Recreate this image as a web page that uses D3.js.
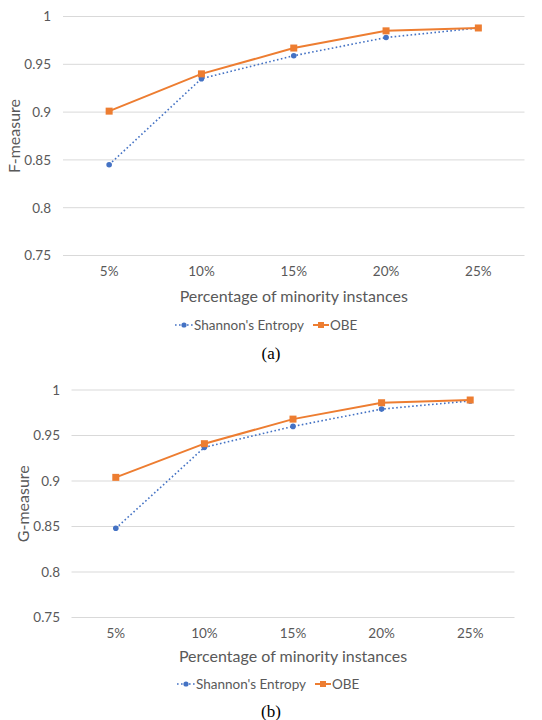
<!DOCTYPE html>
<html><head><meta charset="utf-8">
<script src="https://cdn.jsdelivr.net/npm/d3@7"></script>
<style>body{margin:0;background:#fff;} svg{display:block;}</style>
</head><body>
<svg id="c" width="542" height="720"></svg>
<script>
const categories = ["5%", "10%", "15%", "20%", "25%"];
const yTicks = [0.75, 0.8, 0.85, 0.9, 0.95, 1];
const seriesNames = ["Shannon's Entropy", "OBE"];
const fShannon = [0.845, 0.935, 0.959, 0.978, 0.988];
const fOBE = [0.901, 0.940, 0.967, 0.985, 0.988];
const gShannon = [0.848, 0.937, 0.960, 0.979, 0.988];
const gOBE = [0.904, 0.941, 0.968, 0.986, 0.989];

const svg = d3.select("#c");
const blue = "#4472C4", orange = "#ED7D31", txt = "#595959";
const font = "Lato, 'Open Sans', sans-serif";

function panel(o) {
  const g = svg.append("g");
  const x = d3.scaleBand().domain(categories).range([o.x0, o.x1]);
  const y = d3.scaleLinear().domain([0.75, 1]).range([o.y0, o.y1]);
  g.selectAll("line.grid").data(yTicks).enter().append("line")
    .attr("x1", o.x0).attr("x2", o.x1)
    .attr("y1", d => y(d)).attr("y2", d => y(d))
    .attr("stroke", "#D9D9D9").attr("stroke-width", 1);
  const ya = g.append("g").attr("transform", `translate(${o.x0},0)`)
    .call(d3.axisLeft(y).tickValues(yTicks).tickSize(0).tickPadding(o.x0 - o.labR).tickFormat(d => d3.format("")(d)));
  ya.select(".domain").remove();
  ya.selectAll("text").attr("fill", txt).style("font-family", font).style("font-size", "13.5px");
  const xa = g.append("g").attr("transform", `translate(0,${o.y0})`)
    .call(d3.axisBottom(x).tickSize(0).tickPadding(o.xTickY - o.y0 - 9));
  xa.select(".domain").remove();
  xa.selectAll("text").attr("fill", txt).style("font-family", font).style("font-size", "13.5px");
  g.append("text").attr("x", (o.x0 + o.x1) / 2).attr("y", o.xTitleY)
    .attr("text-anchor", "middle").attr("fill", txt)
    .style("font-family", font).style("font-size", "16px").text("Percentage of minority instances");
  g.append("text").attr("transform", `translate(${o.yTitleX},${(o.y0 + o.y1) / 2}) rotate(-90)`)
    .attr("text-anchor", "middle").attr("fill", txt)
    .style("font-family", font).style("font-size", "16px").text(o.yTitle);
  const cx = (d, i) => x(categories[i]) + x.bandwidth() / 2;
  const line = d3.line().x((d, i) => cx(d, i)).y(d => y(d));
  g.append("path").datum(o.s).attr("d", line).attr("fill", "none")
    .attr("stroke", blue).attr("stroke-width", 1.6).attr("stroke-dasharray", "1.6,2.4");
  g.selectAll("circle.s").data(o.s).enter().append("circle")
    .attr("cx", cx).attr("cy", d => y(d)).attr("r", 2.8).attr("fill", blue);
  g.append("path").datum(o.b).attr("d", line).attr("fill", "none")
    .attr("stroke", orange).attr("stroke-width", 2);
  g.selectAll("rect.b").data(o.b).enter().append("rect")
    .attr("x", (d, i) => cx(d, i) - 3.5).attr("y", d => y(d) - 3.5)
    .attr("width", 7).attr("height", 7).attr("fill", orange);
  const ly = o.legY;
  const lg = g.append("g");
  lg.append("line").attr("x1", o.legX).attr("x2", o.legX + 18).attr("y1", ly).attr("y2", ly)
    .attr("stroke", blue).attr("stroke-width", 1.6).attr("stroke-dasharray", "1.6,2.4");
  lg.append("circle").attr("cx", o.legX + 9).attr("cy", ly).attr("r", 2.6).attr("fill", blue);
  lg.append("text").attr("x", o.legX + 19).attr("y", ly + 4.5).attr("fill", txt)
    .style("font-family", font).style("font-size", "13.5px").text(seriesNames[0]);
  const ox = o.legX + 138;
  lg.append("line").attr("x1", ox).attr("x2", ox + 16).attr("y1", ly).attr("y2", ly)
    .attr("stroke", orange).attr("stroke-width", 2);
  lg.append("rect").attr("x", ox + 5).attr("y", ly - 3).attr("width", 6).attr("height", 6).attr("fill", orange);
  lg.append("text").attr("x", ox + 17).attr("y", ly + 4.5).attr("fill", txt)
    .style("font-family", font).style("font-size", "13.5px").text(seriesNames[1]);
  g.append("text").attr("x", o.capX).attr("y", o.capY).attr("text-anchor", "middle").attr("fill", "#000")
    .style("font-family", "'Liberation Serif', 'Times New Roman', serif").style("font-size", "17px").text(o.cap);
}

panel({x0: 63, x1: 524.5, y0: 255.5, y1: 16.5, labR: 51, xTickY: 275, xTitleY: 302, yTitleX: 20,
  yTitle: "F-measure", s: fShannon, b: fOBE, legX: 175, legY: 325, cap: "(a)", capX: 271, capY: 359});
panel({x0: 71.5, x1: 514.5, y0: 617.5, y1: 390, labR: 60, xTickY: 637, xTitleY: 662, yTitleX: 29,
  yTitle: "G-measure", s: gShannon, b: gOBE, legX: 177, legY: 684, cap: "(b)", capX: 271, capY: 717});
</script>
</body></html>
